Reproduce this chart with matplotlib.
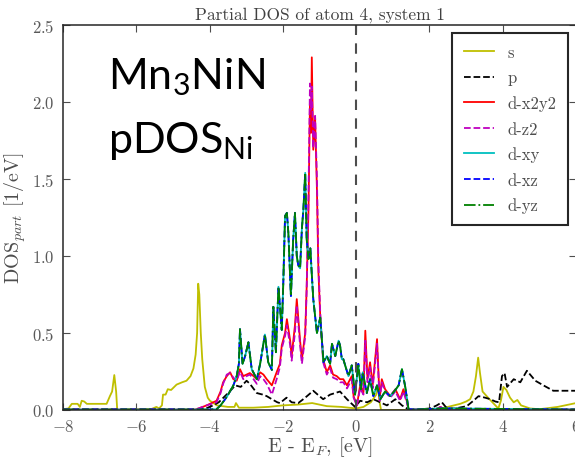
import matplotlib
matplotlib.use("Agg")
import matplotlib.pyplot as plt

# energies relative to E_F [eV] and partial DOS [1/eV]
e_s = [-8.0, -7.85, -7.76, -7.6, -7.54, -7.49, -7.42, -7.35, -7.0, -6.81, -6.72, -6.66, -6.6, -6.55,
       -6.52, -6.0, -5.6, -5.45, -5.38, -5.3, -5.27, -5.2, -5.14, -5.05, -4.9, -4.75, -4.63, -4.52,
       -4.44, -4.38, -4.34, -4.31, -4.28, -4.24, -4.2, -4.13, -4.05, -3.99, -3.8, -3.5, -3.32, -3.28,
       -3.2, -2.8, -2.4, -2.0, -1.6, -1.2, -0.8, -0.4, 0.0, 0.2, 0.4, 0.55, 0.6, 0.64, 0.68, 1.0,
       1.5, 2.0, 2.3, 2.5, 2.84, 3.0, 3.11, 3.2, 3.27, 3.33, 3.38, 3.45, 3.6, 3.8, 3.88, 3.95, 4.02,
       4.1, 4.2, 4.3, 4.4, 4.5, 4.75, 5.0, 5.5, 6.0]
dos_s = [0.005, 0.01, 0.04, 0.04, 0.02, 0.06, 0.055, 0.04, 0.04, 0.04, 0.09, 0.12, 0.227, 0.12,
         0.0, 0.005, 0.005, 0.02, 0.01, 0.03, 0.1, 0.1, 0.135, 0.13, 0.165, 0.18, 0.19, 0.22,
         0.27, 0.36, 0.5, 0.82, 0.75, 0.5, 0.33, 0.15, 0.08, 0.06, 0.03, 0.02, 0.02, 0.045,
         0.015, 0.015, 0.02, 0.03, 0.035, 0.045, 0.025, 0.02, 0.01, 0.02, 0.05, 0.1, 0.155, 0.05, 0.0, 0.0,
         0.0, 0.005, 0.01, 0.02, 0.04, 0.055, 0.07, 0.12, 0.22, 0.34, 0.24, 0.12, 0.08, 0.03, 0.01, 0.06, 0.15,
         0.13, 0.08, 0.05, 0.065, 0.03, 0.01, 0.005, 0.02, 0.045]

e_p = [-8.0, -6.0, -4.3, -4.1, -3.9, -3.75, -3.58, -3.45, -3.3, -3.15, -2.99, -2.9, -2.71, -2.55,
       -2.44, -2.3, -2.15, -2.08, -1.9, -1.76, -1.58, -1.39, -1.17, -1.05, -0.9, -0.71, -0.44,
       -0.25, -0.03, 0.11, 0.3, 0.47, 0.84, 1.07, 1.25, 1.42, 1.6, 2.02, 2.2, 2.34, 2.48, 2.7,
       3.02, 3.2, 3.34, 3.52, 3.66, 3.8, 3.9, 3.98, 4.05, 4.12, 4.3, 4.48, 4.66, 4.89, 5.11, 5.38,
       5.7, 6.0]
dos_p = [0.005, 0.005, 0.005, 0.01, 0.03, 0.05, 0.09, 0.12, 0.16, 0.15, 0.19, 0.17, 0.11, 0.1,
         0.09, 0.07, 0.05, 0.045, 0.08, 0.05, 0.045, 0.08, 0.125, 0.1, 0.07, 0.1, 0.12,
         0.07, 0.02, 0.06, 0.05, 0.07, 0.03, 0.07, 0.03, 0.005, 0.002, 0.01, 0.03, 0.05, 0.01, 0.01,
         0.025, 0.06, 0.09, 0.08, 0.07, 0.055, 0.05, 0.22, 0.24, 0.15, 0.2, 0.18, 0.255, 0.19, 0.16, 0.125,
         0.125, 0.125]

e_eg = [-8.0, -4.4, -4.3, -4.08, -3.81, -3.7, -3.63, -3.53, -3.44, -3.35, -3.26, -3.17, -3.08,
        -2.99, -2.9, -2.8, -2.71, -2.62, -2.53, -2.44, -2.3, -2.17, -2.08, -2.03, -1.94, -1.89,
        -1.8, -1.76, -1.67, -1.62, -1.53, -1.48, -1.39, -1.35, -1.3, -1.26, -1.23, -1.21, -1.17,
        -1.12, -1.07, -1.03, -0.98, -0.9, -0.8, -0.71, -0.63, -0.53, -0.44, -0.35, -0.25, -0.12,
        -0.07, 0.02, 0.11, 0.2, 0.25, 0.31, 0.38, 0.45, 0.57, 0.64, 0.7, 0.79, 0.93, 1.07, 1.2,
        1.29, 1.38, 1.43, 1.6, 2.2, 2.3, 2.4, 6.0]
dos_x2y2 = [0.003, 0.003, 0.01, 0.03, 0.06, 0.12, 0.18, 0.22, 0.245, 0.2, 0.19, 0.265, 0.22,
            0.23, 0.24, 0.22, 0.2, 0.245, 0.23, 0.2, 0.16, 0.245, 0.3, 0.42, 0.5, 0.59,
            0.45, 0.35, 0.55, 0.72, 0.45, 0.33, 0.5, 0.8, 1.3, 2.0, 1.8, 2.29, 1.69,
            1.9, 1.43, 0.9, 0.61, 0.33, 0.245, 0.29, 0.23, 0.22, 0.2, 0.2, 0.16, 0.22,
            0.09, 0.03, 0.16, 0.115, 0.515, 0.2, 0.31, 0.16, 0.46, 0.07, 0.2, 0.135, 0.09, 0.135, 0.07,
            0.135, 0.06, 0.005, 0.003, 0.005, 0.02, 0.005, 0.003]
dos_z2 = [0.003, 0.003, 0.01, 0.03, 0.05, 0.11, 0.17, 0.23, 0.24, 0.21, 0.19, 0.25, 0.2,
          0.22, 0.23, 0.2, 0.17, 0.22, 0.2, 0.17, 0.1, 0.2, 0.28, 0.4, 0.48, 0.55,
          0.42, 0.32, 0.5, 0.68, 0.42, 0.3, 0.48, 0.78, 1.4, 2.12, 1.95, 2.1, 1.7,
          1.91, 1.5, 0.95, 0.63, 0.31, 0.23, 0.27, 0.21, 0.2, 0.18, 0.18, 0.14, 0.2,
          0.08, 0.03, 0.14, 0.1, 0.45, 0.18, 0.28, 0.14, 0.43, 0.06, 0.18, 0.12, 0.08, 0.12, 0.06,
          0.12, 0.05, 0.005, 0.003, 0.005, 0.02, 0.005, 0.003]

e_t2g = [-8.0, -4.0, -3.81, -3.7, -3.53, -3.35, -3.26, -3.2, -3.17, -3.1, -3.03, -2.94, -2.85,
         -2.71, -2.62, -2.49, -2.4, -2.3, -2.26, -2.19, -2.12, -2.03, -1.99, -1.94, -1.89, -1.85,
         -1.78, -1.72, -1.67, -1.62, -1.58, -1.53, -1.48, -1.44, -1.39, -1.35, -1.3, -1.25, -1.21,
         -1.17, -1.12, -1.07, -0.98, -0.89, -0.8, -0.71, -0.66, -0.57, -0.48, -0.44, -0.39, -0.35,
         -0.3, -0.21, -0.12, -0.03, 0.06, 0.13, 0.18, 0.29, 0.38, 0.47, 0.57, 0.66, 0.79, 0.93,
         1.07, 1.16, 1.25, 1.34, 1.43, 1.6, 2.35, 6.0]
dos_xy = [0.003, 0.003, 0.005, 0.03, 0.085, 0.16, 0.22, 0.3, 0.525, 0.3, 0.35, 0.44, 0.265,
          0.2, 0.3, 0.49, 0.31, 0.26, 0.67, 0.375, 0.8, 0.52, 0.81, 1.26, 1.28, 1.15,
          0.74, 1.1, 1.28, 1.0, 0.94, 0.92, 1.18, 1.3, 1.54, 1.11, 0.98, 1.05, 0.88,
          0.72, 0.61, 0.5, 0.6, 0.31, 0.35, 0.3, 0.43, 0.35, 0.45, 0.42, 0.33, 0.33,
          0.29, 0.22, 0.29, 0.1, 0.3, 0.135, 0.245, 0.11, 0.2, 0.09, 0.16, 0.07, 0.12, 0.09,
          0.13, 0.16, 0.265, 0.15, 0.005, 0.003, 0.01, 0.003]
dos_xz = dos_xy
dos_yz = dos_xy

ORBITALS = [
    ("s", e_s, dos_s, "y", "-"),
    ("p", e_p, dos_p, "k", "--"),
    ("d-x2y2", e_eg, dos_x2y2, "r", "-"),
    ("d-z2", e_eg, dos_z2, "m", "--"),
    ("d-xy", e_t2g, dos_xy, "c", "-"),
    ("d-xz", e_t2g, dos_xz, "b", "--"),
    ("d-yz", e_t2g, dos_yz, "g", "-."),
]

plt.rcParams["font.family"] = "cmr10"
plt.rcParams["mathtext.fontset"] = "custom"
plt.rcParams["mathtext.rm"] = "cmr10"
plt.rcParams["mathtext.it"] = "cmmi10"
plt.rcParams["mathtext.sf"] = "Lato"
plt.rcParams["axes.formatter.use_mathtext"] = True


def main() -> None:
    fig = plt.figure(figsize=(5.75, 4.6), dpi=100)
    ax = fig.add_axes([63 / 575, 49 / 460, 513 / 575, 385 / 460])

    for label, e, dos, color, ls in ORBITALS:
        ax.plot(e, dos, color=color, ls=ls, lw=1.3, label=label)

    ax.axvline(0.0, color="0.3", ls="--", lw=1.5, dashes=(5, 4))

    ax.set_xlim(-8, 6)
    ax.set_ylim(0, 2.5)
    ax.set_xticks([-8, -6, -4, -2, 0, 2, 4, 6])
    ax.set_yticks([0.0, 0.5, 1.0, 1.5, 2.0, 2.5])
    ax.tick_params(direction="in", top=True, right=True, length=5, labelsize=12, colors="0.3",
                   labelcolor="0.35", pad=6)
    for spine in ax.spines.values():
        spine.set_color("0.15")
        spine.set_linewidth(1.1)

    ax.set_title("Partial DOS of atom 4, system 1", fontsize=12.5, color="0.25", pad=5)
    ax.set_xlabel("E - E$_F$, [eV]", fontsize=14.5, color="0.3", labelpad=0)
    ax.set_ylabel("DOS$_{part}$ [1/eV]", fontsize=14.5, color="0.3", labelpad=3)

    ax.text(0.088, 0.835, r"$\mathsf{Mn_3NiN}$", transform=ax.transAxes, fontsize=31)
    ax.text(0.088, 0.67, r"$\mathsf{pDOS_{Ni}}$", transform=ax.transAxes, fontsize=31)

    leg = ax.legend(loc="upper right", fontsize=12, fancybox=False, framealpha=1,
                    handlelength=1.8, handletextpad=0.8, labelspacing=0.6, borderpad=0.7,
                    bbox_to_anchor=(0.984, 0.979), borderaxespad=0)
    leg.get_frame().set_edgecolor("0.15")
    leg.get_frame().set_linewidth(1.5)
    for t in leg.get_texts():
        t.set_color("0.3")

    fig.savefig("out.png", dpi=100)
    plt.close(fig)


if __name__ == "__main__":
    main()
